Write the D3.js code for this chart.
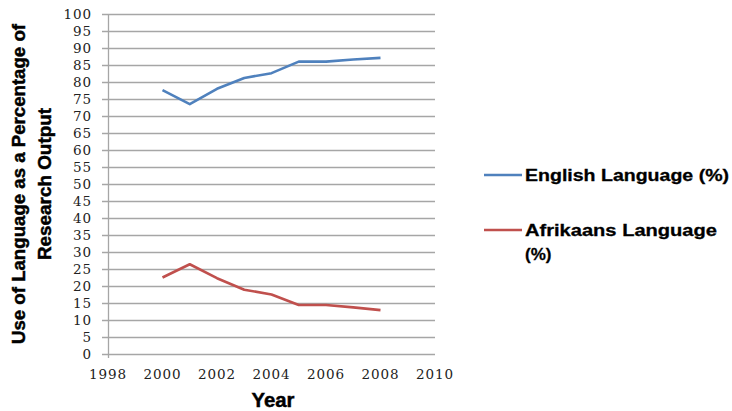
<!DOCTYPE html>
<html><head><meta charset="utf-8">
<script src="https://cdn.jsdelivr.net/npm/d3@7"></script>
<style>body{margin:0;background:#fff}svg{display:block}</style>
</head><body>
<svg id="c" width="732" height="411"></svg>
<script>
const years = [2000,2001,2002,2003,2004,2005,2006,2007,2008];
const english = [77.6,73.5,78.0,81.2,82.6,86.0,86.0,86.6,87.1];
const afrikaans = [22.5,26.4,22.3,18.9,17.5,14.4,14.4,13.7,12.9];
const xTicks = [1998,2000,2002,2004,2006,2008,2010];
const yTicks = d3.range(0,101,5);
const seriesNames = ["English Language (%)","Afrikaans Language (%)"];
const colors = ["#4F81BD","#C0504D"];

const svg = d3.select("#c");
const x = d3.scaleLinear().domain([1998,2010]).range([108,435]);
const y = d3.scaleLinear().domain([0,100]).range([354,14]);
const serif = "'DejaVu Serif', serif";
const sans = "'Liberation Sans', Arial, sans-serif";

// gridlines
svg.append("g").selectAll("line").data(yTicks).join("line")
  .attr("x1", 102).attr("x2", x(2010))
  .attr("y1", d=>y(d)+0.5).attr("y2", d=>y(d)+0.5)
  .attr("stroke", "#a6a6a6").attr("stroke-width", 1.3);
// y axis line
svg.append("line").attr("x1", x(1998)+0.5).attr("x2", x(1998)+0.5)
  .attr("y1", y(100)).attr("y2", y(0)+4)
  .attr("stroke", "#a6a6a6").attr("stroke-width", 1.3);

// y tick labels
svg.append("g").selectAll("text").data(yTicks).join("text")
  .attr("x", 92).attr("y", d=>y(d)).attr("dy","0.37em")
  .attr("text-anchor","end")
  .style("font-family", serif).style("font-size","13.5px").style("letter-spacing","0.9px")
  .attr("fill","#222").text(d=>d);
// x tick labels
svg.append("g").selectAll("text").data(xTicks).join("text")
  .attr("x", d=>x(d)).attr("y", 379)
  .attr("text-anchor","middle")
  .style("font-family", serif).style("font-size","13.5px").style("letter-spacing","0.9px")
  .attr("fill","#222").text(d=>d);

const line = d3.line().x(d=>x(d[0])).y(d=>y(d[1]));
[english, afrikaans].forEach((vals,i)=>{
  svg.append("path").datum(years.map((yr,j)=>[yr,vals[j]]))
    .attr("d", line).attr("fill","none")
    .attr("stroke", colors[i]).attr("stroke-width", 2.6)
    .attr("stroke-linejoin","round");
});

const heavy = sel => sel.style("font-family", sans).style("font-weight","bold")
  .attr("stroke","#000").attr("stroke-width",0.45).attr("fill","#000");

// axis titles
svg.append("text").attr("transform","translate(25,184) rotate(-90)")
  .attr("text-anchor","middle").call(heavy).style("font-size","17.5px")
  .attr("textLength", 320).attr("lengthAdjust","spacingAndGlyphs")
  .text("Use of Language as a Percentage of");
svg.append("text").attr("transform","translate(51,184) rotate(-90)")
  .attr("text-anchor","middle").call(heavy).style("font-size","17.5px")
  .attr("textLength", 152).attr("lengthAdjust","spacingAndGlyphs")
  .text("Research Output");
svg.append("text").attr("x", 273).attr("y", 407).attr("text-anchor","middle")
  .call(heavy).style("font-size","20px")
  .attr("textLength", 43).attr("lengthAdjust","spacingAndGlyphs")
  .text("Year");

// legend
const leg = svg.append("g");
leg.append("line").attr("x1",484).attr("x2",522).attr("y1",175).attr("y2",175)
  .attr("stroke", colors[0]).attr("stroke-width",2.6);
leg.append("text").attr("x",525).attr("y",181).call(heavy).attr("stroke-width",0.3)
  .style("font-size","17px")
  .attr("textLength",204).attr("lengthAdjust","spacingAndGlyphs")
  .text(seriesNames[0]);
leg.append("line").attr("x1",484).attr("x2",522).attr("y1",230).attr("y2",230)
  .attr("stroke", colors[1]).attr("stroke-width",2.6);
const t2 = leg.append("text").call(heavy).attr("stroke-width",0.3).style("font-size","17px");
t2.append("tspan").attr("x",525).attr("y",236).attr("textLength",192).attr("lengthAdjust","spacingAndGlyphs").text("Afrikaans Language");
t2.append("tspan").attr("x",525).attr("y",260).text("(%)");
</script>
</body></html>
